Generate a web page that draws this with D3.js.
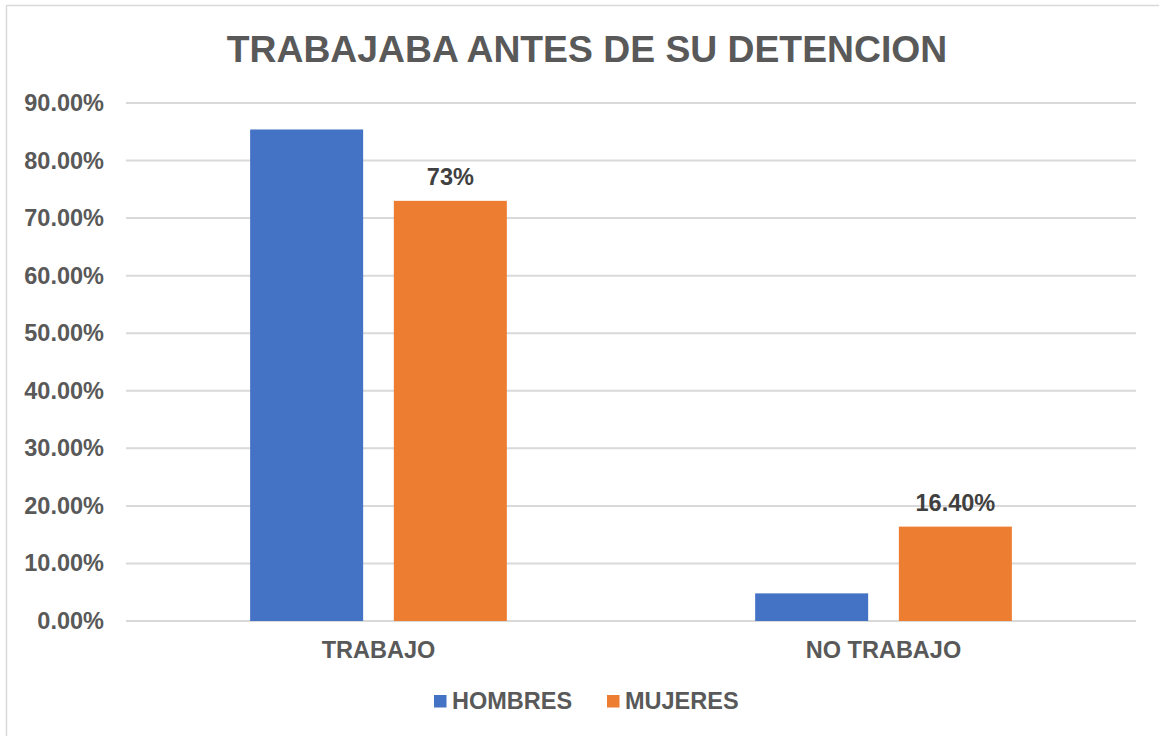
<!DOCTYPE html>
<html lang="es">
<head>
    <meta charset="utf-8">
    <title>Trabajaba antes de su detencion</title>
    <script src="https://d3js.org/d3.v7.min.js" charset="utf-8"></script>
    <style type="text/css">
        body { margin: 0; background: #fff; }
        .textset { font-family: "Liberation Sans", Arial, sans-serif; font-weight: bold; }
    </style>
</head>
<body>
    <script type="text/javascript">

        // data
        var categories = ["TRABAJO", "NO TRABAJO"];
        var series = ["HOMBRES", "MUJERES"];
        var hombres = [0.854, 0.048];
        var mujeres = [0.73, 0.164];
        var labelsMujeres = ["73%", "16.40%"];
        var yTicks = [0, 0.1, 0.2, 0.3, 0.4, 0.5, 0.6, 0.7, 0.8, 0.9];

        var colors = { HOMBRES: "#4472C4", MUJERES: "#ED7D31" };

        var W = 1159, H = 736;
        var margin = { top: 103, right: 23, bottom: 115, left: 126 },
            width = W - margin.left - margin.right,
            height = H - margin.top - margin.bottom;

        var svg = d3.select("body").append("svg")
            .attr("width", W)
            .attr("height", H);

        // chart frame (only top/left visible in the picture)
        svg.append("rect")
            .attr("x", 6.5).attr("y", 5.5)
            .attr("width", W + 20).attr("height", H + 20)
            .attr("fill", "none")
            .attr("stroke", "#D9D9D9")
            .attr("stroke-width", 1.5);

        svg.append("text")
            .attr("class", "textset")
            .attr("x", 587).attr("y", 62)
            .attr("text-anchor", "middle")
            .attr("font-size", "37.3px")
            .attr("fill", "#595959")
            .text("TRABAJABA ANTES DE SU DETENCION");

        var g = svg.append("g")
            .attr("transform", "translate(" + margin.left + "," + margin.top + ")");

        var x0 = d3.scaleBand()
            .domain(categories)
            .range([0, width])
            .paddingInner(0.4917)
            .paddingOuter(0.2458);

        var x1 = d3.scaleBand()
            .domain(series)
            .range([0, x0.bandwidth()])
            .paddingInner(0.2136);

        var y = d3.scaleLinear()
            .domain([0, 0.9])
            .range([height, 0]);

        // gridlines
        g.selectAll(".grid")
            .data(yTicks)
            .enter()
            .append("line")
            .attr("class", "grid")
            .attr("x1", 0).attr("x2", width)
            .attr("y1", function (d) { return y(d); })
            .attr("y2", function (d) { return y(d); })
            .attr("stroke", "#D9D9D9")
            .attr("stroke-width", 2);

        // y axis labels
        var yAxis = g.append("g")
            .attr("class", "textset")
            .call(d3.axisLeft(y).tickValues(yTicks).tickFormat(d3.format(".2%")).tickSize(0).tickPadding(22));
        yAxis.select(".domain").remove();
        yAxis.selectAll("text")
            .attr("font-size", "23.5px")
            .attr("font-family", "Liberation Sans, Arial, sans-serif")
            .attr("font-weight", "bold")
            .attr("fill", "#595959");

        // x axis labels
        var xAxis = g.append("g")
            .attr("class", "textset")
            .attr("transform", "translate(0," + height + ")")
            .call(d3.axisBottom(x0).tickSize(0).tickPadding(20));
        xAxis.select(".domain").remove();
        xAxis.selectAll("text")
            .attr("font-size", "23.5px")
            .attr("font-family", "Liberation Sans, Arial, sans-serif")
            .attr("font-weight", "bold")
            .attr("fill", "#595959");

        var rows = categories.map(function (c, i) {
            return { cat: c, values: [
                { s: "HOMBRES", v: hombres[i], label: null },
                { s: "MUJERES", v: mujeres[i], label: labelsMujeres[i] }
            ] };
        });

        var groups = g.selectAll(".cat")
            .data(rows)
            .enter()
            .append("g")
            .attr("class", "cat")
            .attr("transform", function (d) { return "translate(" + x0(d.cat) + ",0)"; });

        groups.selectAll("rect")
            .data(function (d) { return d.values; })
            .enter()
            .append("rect")
            .attr("x", function (d) { return x1(d.s); })
            .attr("y", function (d) { return y(d.v); })
            .attr("width", x1.bandwidth())
            .attr("height", function (d) { return height - y(d.v); })
            .attr("fill", function (d) { return colors[d.s]; });

        groups.selectAll(".lbl")
            .data(function (d) { return d.values.filter(function (v) { return v.label; }); })
            .enter()
            .append("text")
            .attr("class", "lbl textset")
            .attr("x", function (d) { return x1(d.s) + x1.bandwidth() / 2; })
            .attr("y", function (d) { return y(d.v) - 16; })
            .attr("text-anchor", "middle")
            .attr("font-size", "23.5px")
            .attr("fill", "#404040")
            .text(function (d) { return d.label; });

        // legend
        var legendX = [434, 607];
        var legend = svg.selectAll(".legend")
            .data(series)
            .enter()
            .append("g")
            .attr("class", "legend")
            .attr("transform", function (d, i) { return "translate(" + legendX[i] + ",695)"; });
        legend.append("rect")
            .attr("width", 12.5).attr("height", 12.5)
            .attr("fill", function (d) { return colors[d]; });
        legend.append("text")
            .attr("class", "textset")
            .attr("x", 18).attr("y", 14)
            .attr("font-size", "23.5px")
            .attr("fill", "#595959")
            .text(function (d) { return d; });

    </script>
</body>
</html>
